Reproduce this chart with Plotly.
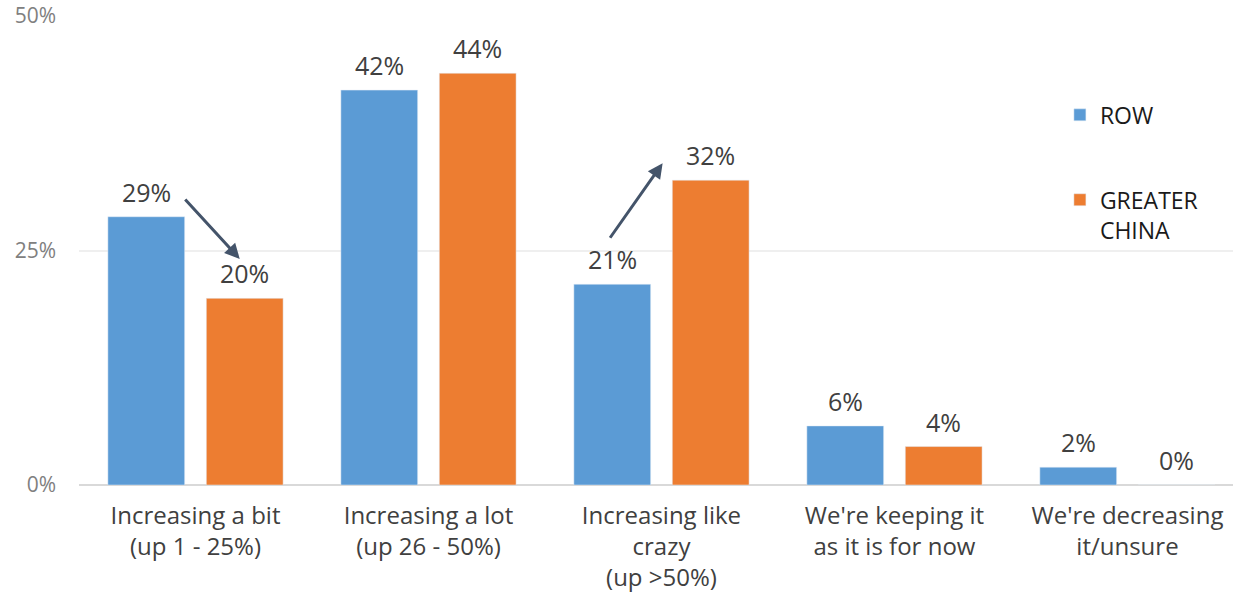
import plotly.graph_objects as go

categories = ["Increasing a bit<br>(up 1 - 25%)", "Increasing a lot<br>(up 26 - 50%)",
              "Increasing like<br>crazy<br>(up >50%)", "We're keeping it<br>as it is for now",
              "We're decreasing<br>it/unsure"]
row_values = [28.6, 42.1, 21.4, 6.3, 1.9]
china_values = [19.9, 43.9, 32.5, 4.1, 0.0]
series_names = ["ROW", "GREATER<br>CHINA"]
colors = ["#5B9BD5", "#ED7D31"]
y_ticks = [0, 25, 50]
y_tick_labels = ["0%", "25%", "50%"]
# arrows: (category index, tail dx, tail y, head dx, head y)
arrows = [(0, -0.05, 30.6, 0.19, 24.1), (2, -0.225, 26.2, 0.005, 34.3)]

FONT = "Open Sans"
BARGAP = 0.155
GROUPGAP = 0.22

fig = go.Figure()
idx = list(range(len(categories)))
for name, vals, col, grp in [(series_names[0], row_values, colors[0], "a"),
                             (series_names[1], china_values, colors[1], "b")]:
    fig.add_trace(go.Bar(x=idx, y=vals, name=name, marker_color=col,
                         legendgroup=grp, hoverinfo="skip"))

off = (1 - BARGAP) / 4
for i in idx:
    for vals, sign in [(row_values, -1), (china_values, 1)]:
        fig.add_annotation(x=i + sign * off, y=vals[i], text=f"{round(vals[i])}%",
                           showarrow=False, yanchor="bottom", yshift=6,
                           font=dict(family=FONT, size=25, color="#404040", weight=500))

for c, tdx, ty, hdx, hy in arrows:
    fig.add_annotation(x=c + hdx, y=hy, ax=c + tdx, ay=ty, axref="x", ayref="y",
                       xref="x", yref="y", text="", showarrow=True,
                       arrowhead=2, arrowsize=1, arrowwidth=3, arrowcolor="#44546A")

fig.update_layout(
    width=1233, height=603,
    margin=dict(l=79, r=0, t=16, b=118),
    paper_bgcolor="white", plot_bgcolor="white",
    barmode="group", bargap=BARGAP, bargroupgap=GROUPGAP,
    font=dict(family=FONT, color="#404040"),
    showlegend=True,
    legend=dict(x=0.85, y=0.835, xanchor="left", yanchor="top",
                font=dict(family=FONT, size=23, color="#1a1a1a"),
                tracegroupgap=52, valign="top", bgcolor="rgba(0,0,0,0)"),
    xaxis=dict(tickmode="array", tickvals=idx, ticktext=categories,
               range=[-0.5, 4.453], showgrid=False, showline=False, zeroline=False,
               tickfont=dict(family=FONT, size=24, color="#404040", weight=500),
               ticks="", ticklabelstandoff=14),
    yaxis=dict(range=[0, 50], tickvals=y_ticks, ticktext=y_tick_labels,
               showgrid=True, gridcolor="#EFEFEF", gridwidth=2,
               zeroline=True, zerolinecolor="#D9D9D9", zerolinewidth=2,
               showline=False, ticks="", ticklabelstandoff=22,
               tickfont=dict(family=FONT, size=21, color="#808080", weight=500)),
)

fig.write_html("out.html")
